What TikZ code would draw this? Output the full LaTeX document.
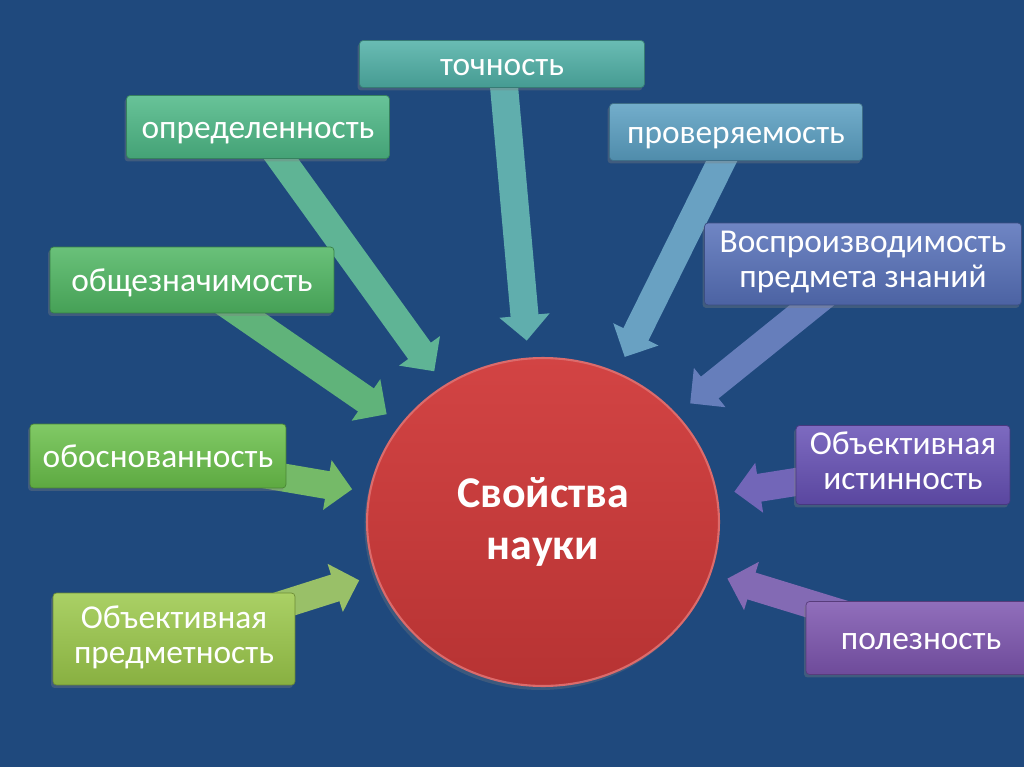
\documentclass[tikz,border=0pt]{standalone}
\usepackage{fontspec}
\setmainfont{Carlito}
\usetikzlibrary{arrows.meta,shapes.geometric,shadows}
\definecolor{slideblue}{HTML}{1F497D}
\definecolor{corered}{HTML}{D03A3A}
\definecolor{tochncol}{HTML}{4FB0A6}
\definecolor{opredcol}{HTML}{4DB886}
\definecolor{provercol}{HTML}{5A9FC2}
\definecolor{vospcol}{HTML}{5670B9}
\definecolor{obshchcol}{HTML}{4FB662}
\definecolor{obosncol}{HTML}{6AC04A}
\definecolor{predmcol}{HTML}{9BC84A}
\definecolor{istincol}{HTML}{6650B5}
\definecolor{polezcol}{HTML}{7D55AF}
\pgfdeclarelayer{back}
\pgfdeclarelayer{links}
\pgfsetlayers{back,links,main}
\tikzset{
  prop/.style = {draw=#1!70!black, thin, rounded corners=2pt, top color=#1!85!white,
                 bottom color=#1!88!black, text=white, align=center, inner sep=1pt,
                 font=\fontsize{19}{20}\selectfont,
                 execute at begin node={\rule[-5pt]{0pt}{23pt}},
                 execute at end node={\rule[-5pt]{0pt}{5pt}},
                 drop shadow={opacity=0.35, shadow xshift=-0.04cm, shadow yshift=-0.06cm}},
  link/.style = {draw=#1!85!white!88!slideblue, line width=0.56cm,
                 -{Triangle[width=0pt 1.75, length=0pt 0.9]}, shorten >=0.34cm},
  core/.style = {ellipse, minimum width=7.04cm, minimum height=6.56cm, inner sep=0pt,
                 draw=corered!75!white, line width=1.2pt, top color=corered!95!white,
                 bottom color=corered!88!black, text=white, align=center,
                 font=\bfseries\fontsize{25}{29.5}\selectfont,
                 drop shadow={opacity=0.3, shadow xshift=-0.05cm, shadow yshift=-0.08cm}},
}
\begin{document}
\begin{tikzpicture}[x=0.02cm, y=-0.02cm]
  \useasboundingbox (0,0) rectangle (1024,767);
  \begin{pgfonlayer}{back}
    \fill[slideblue] (0,0) rectangle (1024,767);
  \end{pgfonlayer}
  % centre
  \node[core] (core) at (543,522) {Свойства\\науки};
  % properties
  \node[prop=tochncol, minimum width=5.7cm, minimum height=0.94cm] (tochn) at (502,64) {точность};
  \node[prop=opredcol, minimum width=5.26cm, minimum height=1.26cm] (opred) at (258,127) {определенность};
  \node[prop=provercol, minimum width=5.06cm, minimum height=1.14cm] (prover) at (736,132) {проверяемость};
  \node[prop=vospcol, minimum width=6.34cm, minimum height=1.64cm] (vosp) at (863,264) {Воспроизводимость\\предмета знаний};
  \node[prop=obshchcol, minimum width=5.68cm, minimum height=1.32cm] (obshch) at (192,280) {общезначимость};
  \node[prop=obosncol, minimum width=5.12cm, minimum height=1.28cm] (obosn) at (158,456) {обоснованность};
  \node[prop=predmcol, minimum width=4.84cm, minimum height=1.84cm] (predm) at (174,639) {Объективная\\предметность};
  \node[prop=istincol, minimum width=4.28cm, minimum height=1.58cm] (istin) at (903,465) {Объективная\\истинность};
  \node[prop=polezcol, minimum width=4.6cm, minimum height=1.46cm] (polez) at (921,638) {полезность};
  % arrows into the centre
  \begin{pgfonlayer}{links}
    \foreach \src/\col in {tochn/tochncol, opred/opredcol, prover/provercol, vosp/vospcol,
                           obshch/obshchcol, obosn/obosncol, predm/predmcol,
                           istin/istincol, polez/polezcol}
      \draw[link=\col] (\src.center) -- (core);
  \end{pgfonlayer}
\end{tikzpicture}
\end{document}
